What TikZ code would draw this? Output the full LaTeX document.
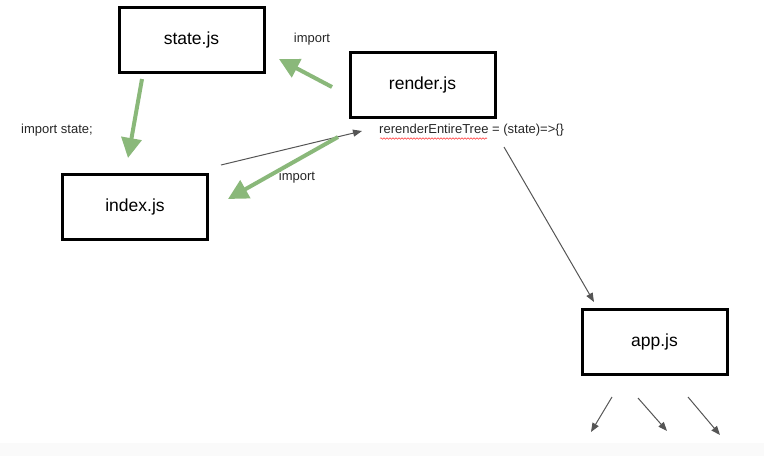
\documentclass[tikz,border=0pt]{standalone}
\usepackage{fontspec}
\setmainfont{Liberation Sans}
\usetikzlibrary{arrows.meta,decorations.pathmorphing}
\definecolor{arrowgreen}{HTML}{8AB87A}
\definecolor{arrowgray}{HTML}{555555}
\tikzset{
  filebox/.style={draw=black, line width=3pt, minimum width=145pt, minimum height=65pt, inner sep=0pt, font=\fontsize{17.5}{20}\selectfont},
  greenarrow/.style={draw=arrowgreen, line width=4pt, -{Triangle[length=20pt,width=20pt]}},
  grayarrow/.style={draw=arrowgray, line width=1pt, -{Triangle[length=9pt,width=7pt]}},
  smalltext/.style={font=\fontsize{13}{15}\selectfont, inner sep=0pt, text=black!85}
}
\begin{document}
\begin{tikzpicture}[x=1pt,y=-1pt]
\useasboundingbox (0,0) rectangle (764,456);
\fill[black!2] (0,443) rectangle (764,456);
% boxes
\node[filebox] (state) at (191.5,39.5) {state.js};
\node[filebox] (render) at (422.5,85) {render.js};
\node[filebox] (index) at (135,206.5) {index.js};
\node[filebox] (app) at (654.5,341.5) {app.js};
% labels
\node[smalltext] (lbl1) at (312,39) {import};
\node[smalltext, anchor=west] (lbl2) at (21,130) {import state;};
\node[smalltext] (lbl3) at (297,177) {import};
\node[smalltext, anchor=west] (lbl4) at (379,130) {rerenderEntireTree = (state)=>\{\}};
\coordinate (wv1) at (380,138.5);
\coordinate (wv2) at (487,138.5);
\draw[red!80, line width=0.5pt, decorate, decoration={snake, amplitude=0.8pt, segment length=3pt}] (wv1) -- (wv2);
% coordinates for arrow ends
\coordinate (g1s) at (332,87);
\coordinate (g1e) at (279,59);
\coordinate (g2s) at (142,79);
\coordinate (g2e) at (128,158);
\coordinate (g3s) at (338,137);
\coordinate (g3e) at (228,199);
\coordinate (a1s) at (221,165);
\coordinate (a1e) at (362,131);
\coordinate (a2s) at (504,147);
\coordinate (a2e) at (594,302);
\coordinate (b1s) at (612,397);
\coordinate (b1e) at (591,432);
\coordinate (b2s) at (638,398);
\coordinate (b2e) at (667,431);
\coordinate (b3s) at (688,397);
\coordinate (b3e) at (720,435);
% gray arrows
\draw[grayarrow] (a1s) -- (a1e);
\draw[grayarrow] (a2s) -- (a2e);
\draw[grayarrow] (b1s) -- (b1e);
\draw[grayarrow] (b2s) -- (b2e);
\draw[grayarrow] (b3s) -- (b3e);
% green arrows
\draw[greenarrow] (g1s) -- (g1e);
\draw[greenarrow] (g2s) -- (g2e);
\draw[greenarrow] (g3s) -- (g3e);
\end{tikzpicture}
\end{document}
